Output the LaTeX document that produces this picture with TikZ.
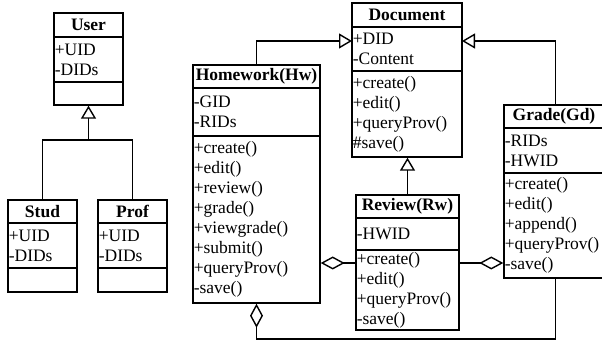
\documentclass[tikz,border=0pt]{standalone}
\usepackage{fontspec}
\setmainfont{Liberation Serif}
\usetikzlibrary{arrows.meta,fit}
\begin{document}
\begin{tikzpicture}[x=1pt,y=-1pt,
  every node/.style={font=\fontsize{17.5}{20}\selectfont},
  cls/.style={draw,line width=1.4pt,inner sep=0pt,rectangle},
  ttl/.style={inner sep=0pt,font=\fontsize{17.5}{20}\selectfont\bfseries},
  mem/.style={inner xsep=0.6pt,inner ysep=0pt,align=left,anchor=west},
  dv/.style={line width=1.4pt},
  con/.style={line width=1.4pt},
  inh/.style={con,-{Triangle[open,length=13pt,width=15pt]}},
  agg/.style={con,{Diamond[open,length=24pt,width=13pt]}-}]
\useasboundingbox (0,0) rectangle (602,344);
\clip (0,0) rectangle (602,344);

% User
\node[cls,fit={(54,13) (123,105)}] (user) {};
\draw[dv] (54,37) -- (123,37) (54,82) -- (123,82);
\node[ttl] (user-t) at (88.5,25) {User};
\node[mem] (user-a) at (54,59.5) {+UID\\-DIDs};

% Stud
\node[cls,fit={(8,200) (77,292)}] (stud) {};
\draw[dv] (8,223) -- (77,223) (8,268) -- (77,268);
\node[ttl] (stud-t) at (42.5,211.5) {Stud};
\node[mem] (stud-a) at (8,245.5) {+UID\\-DIDs};

% Prof
\node[cls,fit={(98,200) (167,292)}] (prof) {};
\draw[dv] (98,223) -- (167,223) (98,268) -- (167,268);
\node[ttl] (prof-t) at (132.5,211.5) {Prof};
\node[mem] (prof-a) at (98,245.5) {+UID\\-DIDs};

% Document
\node[cls,fit={(352,3) (462,157)}] (doc) {};
\draw[dv] (352,27) -- (462,27) (352,71) -- (462,71);
\node[ttl] (doc-t) at (407,15) {Document};
\node[mem] (doc-a) at (352,49) {+DID\\-Content};
\node[mem] (doc-m) at (352,114) {+create()\\+edit()\\+queryProv()\\\#save()};

% Homework
\node[cls,fit={(193,65) (320,303)}] (hw) {};
\draw[dv] (193,88) -- (320,88) (193,136) -- (320,136);
\node[ttl] (hw-t) at (256.5,76.5) {Homework(Hw)};
\node[mem] (hw-a) at (193,112) {-GID\\-RIDs};
\node[mem] (hw-m) at (193,219.5) {+create()\\+edit()\\+review()\\+grade()\\+viewgrade()\\+submit()\\+queryProv()\\-save()};

% Review
\node[cls,fit={(356,195) (459,330)}] (rw) {};
\draw[dv] (356,218) -- (459,218) (356,250) -- (459,250);
\node[ttl] (rw-t) at (407.5,206.5) {Review(Rw)};
\node[mem] (rw-a) at (356,234) {-HWID};
\node[mem] (rw-m) at (356,290) {+create()\\+edit()\\+queryProv()\\-save()};

% Grade
\node[cls,fit={(504,105) (607,278)}] (gd) {};
\draw[dv] (504,128) -- (607,128) (504,173) -- (607,173);
\node[ttl] (gd-t) at (554,116.5) {Grade(Gd)};
\node[mem] (gd-a) at (504,150.5) {-RIDs\\-HWID};
\node[mem] (gd-m) at (504,225.5) {+create()\\+edit()\\+append()\\+queryProv()\\-save()};

% inheritance
\coordinate (j1) at (88.5,140);
\draw[con] (stud.north) |- (j1) -| (prof.north);
\draw[inh] (j1) -- (user.south);
\coordinate (dl) at (352,41);
\coordinate (dr) at (462,41);
\draw[inh] (hw.north) |- (dl);
\draw[inh] (gd.north) |- (dr);
\draw[inh] (rw.north) -- (rw.north |- doc.south);

% aggregation
\coordinate (agy) at (0,263);
\coordinate (boty) at (0,339);
\draw[agg] (hw.east |- agy) -- (rw.west |- agy);
\draw[agg] (gd.west |- agy) -- (rw.east |- agy);
\draw[agg] (hw.south) -- (hw.south |- boty) -| (gd.south);
\end{tikzpicture}
\end{document}
